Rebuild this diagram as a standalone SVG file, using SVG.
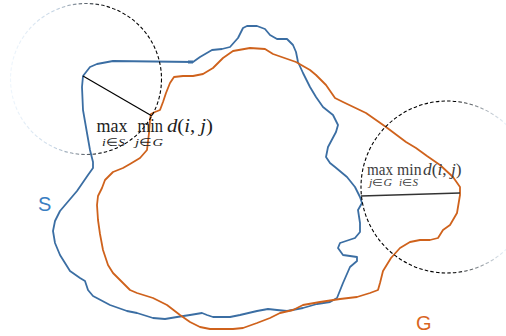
<svg xmlns="http://www.w3.org/2000/svg" width="506" height="336" viewBox="0 0 506 336">
<style>
.s{fill:none;stroke:#3b6ea3;stroke-width:1.8;stroke-linejoin:round}
.g{fill:none;stroke:#cf621c;stroke-width:1.8;stroke-linejoin:round}
.c{fill:none;stroke-width:1.1;stroke-dasharray:3.5 2.2}
.m{font-family:"Liberation Serif",serif}
.it{font-style:italic}
.lab{font-family:"Liberation Sans",Arial,sans-serif;font-size:20px}
</style>
<defs>
<linearGradient id="gl" gradientUnits="userSpaceOnUse" x1="10" y1="0" x2="110" y2="0">
<stop offset="0" stop-color="#d6e8f8" stop-opacity="0.4"/>
<stop offset="0.45" stop-color="#b4c8dc" stop-opacity="0.8"/>
<stop offset="1" stop-color="#000"/>
</linearGradient>
<linearGradient id="gr" gradientUnits="userSpaceOnUse" x1="455" y1="0" x2="506" y2="0">
<stop offset="0" stop-color="#000"/>
<stop offset="1" stop-color="#d6e8f8" stop-opacity="0.5"/>
</linearGradient>
</defs>
<g id="S">
<path class="s" d="M83,76 L90,67 97,64 113,61 193,62 200,57 212,50 222,49 230,47 238,38 243,28 247,26 257,26 265,29 270,35 277,39 287,39 293,45 296,52 298,62 303,73 310,87 316,97 323,107 333,115 338,125 336,132 328,147 326,157 330,163 335,167 347,177 355,187 360,197 362,203 358,210 360,223 360,232 355,238 340,243 338,248 343,255 357,257 357,261 350,267 343,283 337,298 330,302 317,304 303,308 287,311 277,310 268,309 257,311 240,315 230,317 213,317 207,315 202,313 190,315 177,317 165,319 153,318 137,313 127,311 110,305 93,296 88,290 85,281 80,278 70,271 60,255 55,243 53,231 55,221 60,211 77,191 88,175 93,168 93,162 90,150 87,133 83,110 82,87 Z"/>
<rect x="188" y="60.5" width="5" height="3" fill="#3b6ea3"/>
<text class="lab" x="38" y="211" fill="#3a7ec2">S</text>
</g>
<g id="G">
<path class="g" d="M147,150 L149,133 150,120 151,114 155,112 160,110 163,102 166,93 170,83 174,77 183,76 193,76 203,74 213,68 223,58 233,51 250,48 265,49 273,54 296,62 310,70 316,75 326,85 335,98 343,102 366,113 386,127 406,142 416,148 427,156 440,165 453,177 460,187 460,195 457,213 450,225 443,230 438,238 430,240 420,240 410,242 400,248 391,258 383,271 380,283 378,290 370,293 357,297 340,299 320,302 303,305 293,310 280,313 270,318 257,323 243,328 233,329 210,329 200,327 190,322 180,315 167,305 157,300 153,298 137,293 130,290 123,283 113,273 108,265 103,250 100,234 98,220 97,205 98,196 102,188 105,180 113,172 123,168 130,164 140,158 Z"/>
<text class="lab" x="416" y="330" fill="#d9661f">G</text>
</g>
<g id="circles">
<circle class="c" cx="86" cy="79" r="75.5" stroke="url(#gl)"/>
<circle class="c" cx="447" cy="187" r="86" stroke="url(#gr)"/>
</g>
<g id="connectors">
<line x1="83" y1="76" x2="152" y2="116" stroke="#000" stroke-width="1.2"/>
<line x1="361" y1="196" x2="460" y2="193" stroke="#333" stroke-width="1.4"/>
</g>
<g id="label-left" class="m" fill="#222">
<text x="96.5" y="132" font-size="19" textLength="31" lengthAdjust="spacingAndGlyphs">max</text>
<text x="137.5" y="132" font-size="19" textLength="25.5" lengthAdjust="spacingAndGlyphs">min</text>
<text x="167" y="132" font-size="19" textLength="46" lengthAdjust="spacingAndGlyphs"><tspan class="it">d</tspan>(<tspan class="it">i</tspan>, <tspan class="it">j</tspan>)</text>
<text x="102" y="145.5" font-size="11" textLength="23" lengthAdjust="spacingAndGlyphs"><tspan class="it">i</tspan>∈<tspan class="it">S</tspan></text>
<text x="135" y="145.5" font-size="11" textLength="28" lengthAdjust="spacingAndGlyphs"><tspan class="it">j</tspan>∈<tspan class="it">G</tspan></text>
</g>
<g id="label-right" class="m" fill="#3c3c3c">
<text x="367" y="174.5" font-size="16" textLength="26" lengthAdjust="spacingAndGlyphs">max</text>
<text x="397" y="174.5" font-size="16" textLength="24.5" lengthAdjust="spacingAndGlyphs">min</text>
<text x="423" y="174.5" font-size="16" textLength="38.5" lengthAdjust="spacingAndGlyphs"><tspan class="it">d</tspan>(<tspan class="it">i</tspan>, <tspan class="it">j</tspan>)</text>
<text x="369" y="186" font-size="9.5" textLength="23" lengthAdjust="spacingAndGlyphs"><tspan class="it">j</tspan>∈<tspan class="it">G</tspan></text>
<text x="399" y="186" font-size="9.5" textLength="19" lengthAdjust="spacingAndGlyphs"><tspan class="it">i</tspan>∈<tspan class="it">S</tspan></text>
</g>
</svg>
